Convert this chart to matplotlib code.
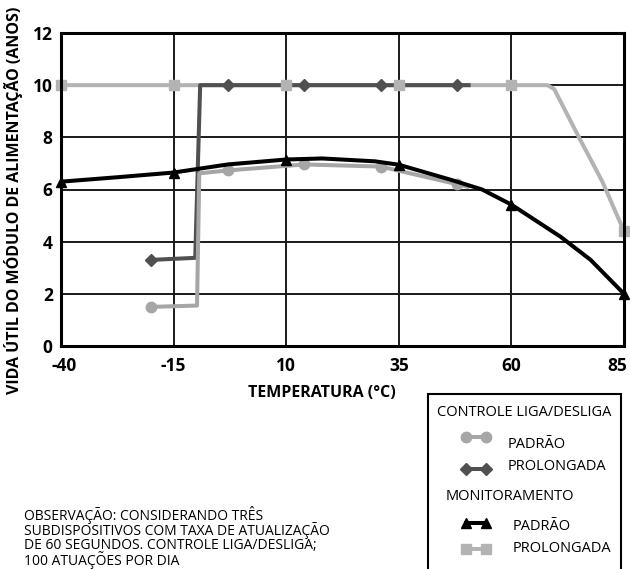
import matplotlib
matplotlib.use("Agg")
import matplotlib.pyplot as plt
from matplotlib.lines import Line2D
from matplotlib.patches import Rectangle
from matplotlib.transforms import offset_copy

plt.rcParams['font.family'] = ['Open Sans', 'DejaVu Sans']

# ---- data ----
x_ticks = [-40, -15, 10, 35, 60, 85]
x_tick_labels = ["-40", "-15", "10", "35", "60", "85"]
y_ticks = [0, 2, 4, 6, 8, 10, 12]
y_tick_labels = ["0", "2", "4", "6", "8", "10", "12"]

# Monitoramento - Padrão (black, triangles)
mon_pad_t = [-40, -27.5, -15, -3, 10, 18, 29.7, 35, 46.4, 53.5, 60, 70.9, 77.6, 85]
mon_pad_v = [6.3, 6.47, 6.65, 6.96, 7.15, 7.19, 7.08, 6.95, 6.38, 6.0, 5.42, 4.19, 3.3, 2.0]
mon_pad_mk_t = [-40, -15, 10, 35, 60, 85]
mon_pad_mk_v = [6.3, 6.65, 7.15, 6.95, 5.42, 2.0]

# Monitoramento - Prolongada (light gray, squares)
mon_pro_t = [-40, -15, 10, 35, 60, 68, 69.5, 75.3, 80.2, 85]
mon_pro_v = [10, 10, 10, 10, 10, 10, 9.85, 7.9, 6.3, 4.4]
mon_pro_mk_t = [-40, -15, 10, 35, 60, 85]
mon_pro_mk_v = [10, 10, 10, 10, 10, 4.4]

# Controle liga/desliga - Padrão (gray, circles)
oo_pad_t = [-20, -9.8, -9.3, -3, 14, 31, 48, 50.3]
oo_pad_v = [1.5, 1.55, 6.62, 6.73, 6.96, 6.88, 6.2, 6.1]
oo_pad_mk_t = [-20, -3, 14, 31, 48]
oo_pad_mk_v = [1.5, 6.73, 6.96, 6.88, 6.2]

# Controle liga/desliga - Prolongada (dark gray, diamonds)
oo_pro_t = [-20, -10.2, -9.1, -3, 14, 31, 48, 50.5]
oo_pro_v = [3.3, 3.38, 10, 10, 10, 10, 10, 10]
oo_pro_mk_t = [-20, -3, 14, 31, 48]
oo_pro_mk_v = [3.3, 10, 10, 10, 10]

C_OO_PAD = '#a6a6a6'
C_OO_PRO = '#505050'
C_MON_PAD = '#000000'
C_MON_PRO = '#b3b3b3'

W, H = 630, 569
fig = plt.figure(figsize=(W / 100, H / 100), dpi=100)

def fx(x):
    return x / W

def fy(y):
    return 1 - y / H

ax = fig.add_axes([fx(61), fy(346), fx(624) - fx(61), fy(33) - fy(346)])
ax.set_xlim(-40, 85)
ax.set_ylim(0, 12)
ax.set_xticks(x_ticks)
ax.set_xticklabels(x_tick_labels, fontsize=12.5, fontweight='bold')
ax.set_yticks(y_ticks)
ax.set_yticklabels(y_tick_labels, fontsize=12.5, fontweight='bold')
ax.tick_params(axis='both', length=0)
ax.tick_params(axis='x', pad=8)
ax.tick_params(axis='y', pad=6)
ax.grid(True, color='#1a1a1a', linewidth=1.4, zorder=0)
for s in ax.spines.values():
    s.set_linewidth(2.2)
    s.set_color('black')
    s.set_zorder(10)

# nudge first/last x tick labels like the reference
xl = ax.get_xticklabels()
xl[0].set_transform(offset_copy(xl[0].get_transform(), fig=fig, x=3, y=0, units='dots'))
xl[-1].set_transform(offset_copy(xl[-1].get_transform(), fig=fig, x=-7, y=0, units='dots'))

lw = 2.9
# lines
ax.plot(mon_pro_t, mon_pro_v, color=C_MON_PRO, lw=lw, zorder=2, solid_joinstyle='round')
ax.plot(oo_pro_t, oo_pro_v, color=C_OO_PRO, lw=lw, zorder=3)
ax.plot(oo_pad_t, oo_pad_v, color=C_OO_PAD, lw=lw, zorder=3)
ax.plot(mon_pad_t, mon_pad_v, color=C_MON_PAD, lw=lw, zorder=5, solid_joinstyle='round')
# markers
ax.plot(oo_pro_mk_t, oo_pro_mk_v, ls='none', marker='D', ms=6, color=C_OO_PRO, zorder=4)
ax.plot(mon_pro_mk_t, mon_pro_mk_v, ls='none', marker='s', ms=7.5, color=C_MON_PRO, zorder=4.5, clip_on=False)
ax.plot(oo_pad_mk_t, oo_pad_mk_v, ls='none', marker='o', ms=7.5, color=C_OO_PAD, zorder=4)
ax.plot(mon_pad_mk_t, mon_pad_mk_v, ls='none', marker='^', ms=7.5, color=C_MON_PAD, zorder=6, clip_on=False)

# axis labels
fig.text(fx(322), fy(393), 'TEMPERATURA (°C)', fontsize=11.5, fontweight='bold',
         ha='center', va='center')
fig.text(fx(14), fy(200), 'VIDA ÚTIL DO MÓDULO DE ALIMENTAÇÃO (ANOS)', fontsize=11.5,
         fontweight='bold', rotation=90, ha='center', va='center')

# note
note = ("OBSERVAÇÃO: CONSIDERANDO TRÊS\n"
        "SUBDISPOSITIVOS COM TAXA DE ATUALIZAÇÃO\n"
        "DE 60 SEGUNDOS. CONTROLE LIGA/DESLIGA;\n"
        "100 ATUAÇÕES POR DIA")
fig.text(fx(24), fy(506), note, fontsize=10, ha='left', va='top', linespacing=0.88)

# legend box
fig.add_artist(Rectangle((fx(428), fy(600)), fx(621) - fx(428), fy(394) - fy(600),
                         transform=fig.transFigure, fill=False, lw=1.5, ec='black'))
fig.text(fx(437), fy(413), 'CONTROLE LIGA/DESLIGA', fontsize=10.5, ha='left', va='center')
fig.text(fx(446), fy(497), 'MONITORAMENTO', fontsize=10.5, ha='left', va='center')

entries = [
    (437, 445, 'o', 7.5, C_OO_PAD, 'PADRÃO', 508),
    (469, 467, 'D', 6, C_OO_PRO, 'PROLONGADA', 508),
    (523, 527, '^', 7.5, C_MON_PAD, 'PADRÃO', 513),
    (549, 549, 's', 7.5, C_MON_PRO, 'PROLONGADA', 513),
]
for my, ty, mk, ms, col, lab, tx in entries:
    fig.add_artist(Line2D([fx(466), fx(486)], [fy(my), fy(my)], transform=fig.transFigure,
                          color=col, lw=lw, marker=mk, ms=ms))
    fig.text(fx(tx), fy(ty), lab, fontsize=10.5, ha='left', va='center')

fig.savefig('out.png', dpi=100)
